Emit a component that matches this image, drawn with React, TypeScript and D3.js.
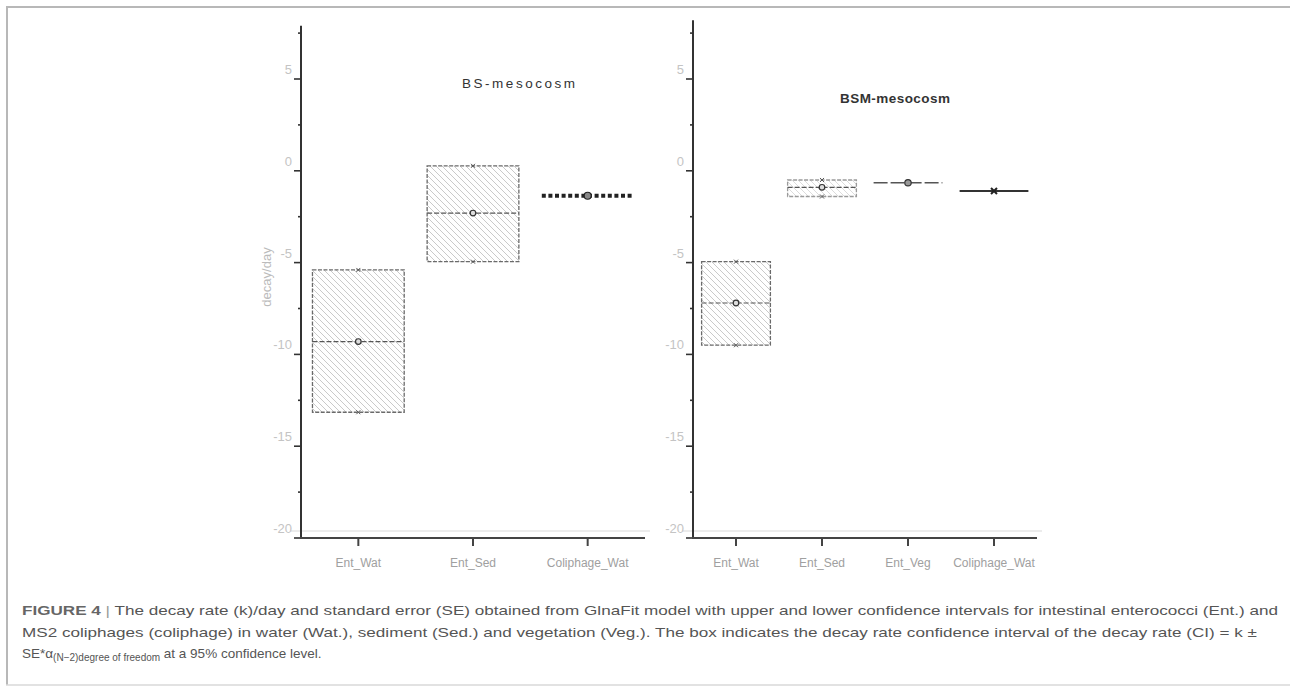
import React, { useEffect, useRef } from 'react';
import * as d3 from 'd3';

// BS-mesocosm (left panel)
const bsCategories = ['Ent_Wat', 'Ent_Sed', 'Coliphage_Wat'];
const bsK = [-9.3, -2.3, -1.36];
const bsUpper = [-5.4, 0.27, -1.36];
const bsLower = [-13.15, -4.95, -1.36];

// BSM-mesocosm (right panel)
const bsmCategories = ['Ent_Wat', 'Ent_Sed', 'Ent_Veg', 'Coliphage_Wat'];
const bsmK = [-7.2, -0.9, -0.65, -1.1];
const bsmUpper = [-4.95, -0.5, -0.65, -1.1];
const bsmLower = [-9.5, -1.4, -0.65, -1.1];

const majorTicks = [-20, -15, -10, -5, 0, 5];
const minorTicks = [-17.5, -12.5, -7.5, -2.5, 2.5, 7.5];

const W = 1290;
const H = 687;

const App = () => {
  const ref = useRef<SVGSVGElement | null>(null);

  useEffect(() => {
    const svg = d3.select(ref.current);
    svg.selectAll('*').remove();

    const defs = svg.append('defs');
    const hatch = (id: string, color: string) => {
      defs
        .append('pattern')
        .attr('id', id)
        .attr('patternUnits', 'userSpaceOnUse')
        .attr('width', 6)
        .attr('height', 6)
        .append('path')
        .attr('d', 'M0,0 L6,6 M-1,5 L1,7 M5,-1 L7,1')
        .attr('stroke', color)
        .attr('stroke-width', 0.8);
    };
    hatch('hatch', '#bdbdbd');
    hatch('hatchLight', '#d2d2d2');

    // page frame
    svg.append('line').attr('x1', 6).attr('x2', W).attr('y1', 7).attr('y2', 7).attr('stroke', '#b8b8b8').attr('stroke-width', 2);
    svg.append('line').attr('x1', 7).attr('x2', 7).attr('y1', 7).attr('y2', 685).attr('stroke', '#b8b8b8').attr('stroke-width', 2);
    svg.append('line').attr('x1', 6).attr('x2', W).attr('y1', 685).attr('y2', 685).attr('stroke', '#d8d8d8').attr('stroke-width', 1.5);

    const y = d3.scaleLinear().domain([-20, 5]).range([538, 79]);

    const drawPanel = (
      cats: string[], k: number[], upper: number[], lower: number[],
      x0: number, x1: number, axisTop: number, title: string,
      titleX: number, titleY: number, titleLen: number, titleWeight: string, panel: string,
    ) => {
      const g = svg.append('g');
      const x = d3.scaleBand().domain(cats).range([x0, x1]).padding(0);
      const bw = x.bandwidth();
      const boxW = bw * 0.8;

      // faint guide just above the baseline
      g.append('line').attr('x1', x0 - 10).attr('x2', x1 + 5).attr('y1', 531).attr('y2', 531).attr('stroke', '#e6e6e6').attr('stroke-width', 1.5);

      // y axis
      g.append('line').attr('x1', x0).attr('x2', x0).attr('y1', y(-20)).attr('y2', y(axisTop)).attr('stroke', '#333').attr('stroke-width', 2);
      g.selectAll('.maj').data(majorTicks).enter().append('line')
        .attr('x1', x0 - 7).attr('x2', x0).attr('y1', (d) => y(d)).attr('y2', (d) => y(d))
        .attr('stroke', '#333').attr('stroke-width', 1.6);
      g.selectAll('.min').data(minorTicks.filter((d) => d < axisTop)).enter().append('line')
        .attr('x1', x0 - 3).attr('x2', x0).attr('y1', (d) => y(d)).attr('y2', (d) => y(d))
        .attr('stroke', '#333').attr('stroke-width', 1.6);
      g.selectAll('.lab').data(majorTicks).enter().append('text')
        .attr('x', x0 - 9).attr('y', (d) => y(d) - 5)
        .attr('text-anchor', 'end')
        .attr('font-family', 'Liberation Sans, Arial, sans-serif')
        .attr('font-size', 13).attr('fill', '#c4c4c4')
        .text((d) => String(d));

      // x axis
      g.append('line').attr('x1', x0 - 1).attr('x2', x1).attr('y1', y(-20)).attr('y2', y(-20)).attr('stroke', '#444').attr('stroke-width', 2);
      g.selectAll('.xt').data(cats).enter().append('line')
        .attr('x1', (d) => (x(d) as number) + bw / 2).attr('x2', (d) => (x(d) as number) + bw / 2)
        .attr('y1', y(-20)).attr('y2', y(-20) + 8)
        .attr('stroke', '#444').attr('stroke-width', 2);
      g.selectAll('.xl').data(cats).enter().append('text')
        .attr('x', (d) => (x(d) as number) + bw / 2).attr('y', 567)
        .attr('text-anchor', 'middle')
        .attr('font-family', 'Liberation Sans, Arial, sans-serif')
        .attr('font-size', 12).attr('fill', '#a0a0a0')
        .text((d) => d);

      // title
      g.append('text').attr('x', titleX).attr('y', titleY)
        .attr('font-family', 'Liberation Sans, Arial, sans-serif')
        .attr('font-size', 13.5).attr('font-weight', titleWeight).attr('fill', '#333')
        .attr('textLength', titleLen).attr('lengthAdjust', 'spacing')
        .text(title);

      cats.forEach((c, i) => {
        const cx = (x(c) as number) + bw / 2;
        const left = cx - boxW / 2;
        if (upper[i] !== lower[i]) {
          const light = panel === 'bsm' && i === 1;
          g.append('rect')
            .attr('x', left).attr('y', y(upper[i]))
            .attr('width', boxW).attr('height', y(lower[i]) - y(upper[i]))
            .attr('fill', light ? 'url(#hatchLight)' : 'url(#hatch)')
            .attr('stroke', light ? '#9a9a9a' : '#6a6a6a').attr('stroke-width', 1.3)
            .attr('stroke-dasharray', '4,1.5');
          g.append('line')
            .attr('x1', left).attr('x2', left + boxW).attr('y1', y(k[i])).attr('y2', y(k[i]))
            .attr('stroke', '#555').attr('stroke-width', 1.2).attr('stroke-dasharray', '5,2');
          [upper[i], lower[i]].forEach((v) => {
            g.append('path')
              .attr('d', `M${cx - 2},${y(v) - 2}L${cx + 2},${y(v) + 2}M${cx - 2},${y(v) + 2}L${cx + 2},${y(v) - 2}`)
              .attr('stroke', '#555').attr('stroke-width', 1);
          });
          g.append('circle').attr('cx', cx).attr('cy', y(k[i])).attr('r', 2.8)
            .attr('fill', '#ddd').attr('stroke', '#333').attr('stroke-width', 1.2);
        } else if (panel === 'bs') {
          g.append('line')
            .attr('x1', left).attr('x2', left + boxW).attr('y1', y(k[i])).attr('y2', y(k[i]))
            .attr('stroke', '#222').attr('stroke-width', 4).attr('stroke-dasharray', '4,2.6');
          g.append('circle').attr('cx', cx).attr('cy', y(k[i])).attr('r', 3.5)
            .attr('fill', '#888').attr('stroke', '#222').attr('stroke-width', 1.2);
        } else if (i === 2) {
          g.append('line')
            .attr('x1', left).attr('x2', left + boxW).attr('y1', y(k[i])).attr('y2', y(k[i]))
            .attr('stroke', '#555').attr('stroke-width', 1.6).attr('stroke-dasharray', '14,3');
          g.append('circle').attr('cx', cx).attr('cy', y(k[i])).attr('r', 3.2)
            .attr('fill', '#999').attr('stroke', '#333').attr('stroke-width', 1.2);
        } else {
          g.append('line')
            .attr('x1', left).attr('x2', left + boxW).attr('y1', y(k[i])).attr('y2', y(k[i]))
            .attr('stroke', '#333').attr('stroke-width', 2);
          g.append('path')
            .attr('d', `M${cx - 3},${y(k[i]) - 3}L${cx + 3},${y(k[i]) + 3}M${cx - 3},${y(k[i]) + 3}L${cx + 3},${y(k[i]) - 3}`)
            .attr('stroke', '#222').attr('stroke-width', 2);
        }
      });
    };

    drawPanel(bsCategories, bsK, bsUpper, bsLower, 301, 645, 7.9, 'BS-mesocosm', 462, 88, 113, 'normal', 'bs');
    drawPanel(bsmCategories, bsmK, bsmUpper, bsmLower, 693, 1037, 8.2, 'BSM-mesocosm', 840, 103, 110, 'bold', 'bsm');

    // y label
    svg.append('text')
      .attr('transform', 'translate(271,277) rotate(-90)')
      .attr('text-anchor', 'middle')
      .attr('font-family', 'Liberation Sans, Arial, sans-serif')
      .attr('font-size', 13).attr('fill', '#bbb')
      .text('decay/day');

    // caption
    const font = 'Liberation Sans, Arial, sans-serif';
    const l1 = svg.append('text').attr('x', 22).attr('y', 615)
      .attr('font-family', font).attr('font-size', 13.5).attr('fill', '#555')
      .attr('textLength', 1256).attr('lengthAdjust', 'spacingAndGlyphs');
    l1.append('tspan').attr('font-weight', 'bold').attr('fill', '#666').text('FIGURE 4 ');
    l1.append('tspan').attr('fill', '#999').text('| ');
    l1.append('tspan').text('The decay rate (k)/day and standard error (SE) obtained from GlnaFit model with upper and lower confidence intervals for intestinal enterococci (Ent.) and');

    svg.append('text').attr('x', 22).attr('y', 637)
      .attr('font-family', font).attr('font-size', 13.5).attr('fill', '#555')
      .attr('textLength', 1235).attr('lengthAdjust', 'spacingAndGlyphs')
      .text('MS2 coliphages (coliphage) in water (Wat.), sediment (Sed.) and vegetation (Veg.). The box indicates the decay rate confidence interval of the decay rate (CI) = k ±');

    const l3 = svg.append('text').attr('x', 22).attr('y', 658)
      .attr('font-family', font).attr('font-size', 13.5).attr('fill', '#555');
    l3.append('tspan').text('SE*α');
    l3.append('tspan').attr('font-size', 10).attr('dy', 3).text('(N−2)degree of freedom');
    l3.append('tspan').attr('dy', -3).text(' at a 95% confidence level.');
  }, []);

  return (
    <svg
      ref={ref}
      width={W}
      height={H}
      style={{ position: 'absolute', left: 0, top: 0, background: '#fff' }}
    />
  );
};

export default App;
